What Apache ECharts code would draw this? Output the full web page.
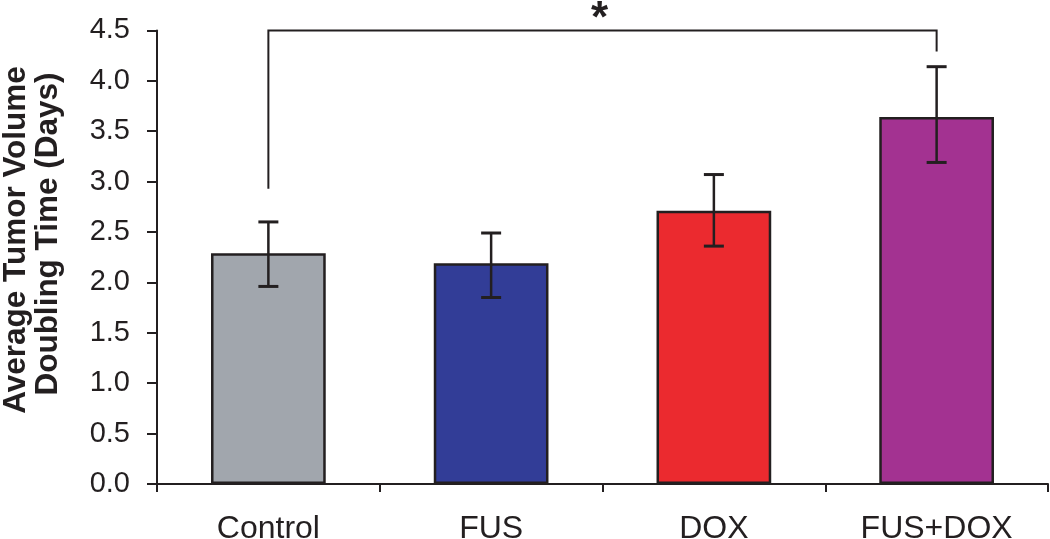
<!DOCTYPE html>
<html>
<head>
<meta charset="utf-8">
<script src="https://cdn.jsdelivr.net/npm/echarts@6/dist/echarts.min.js"></script>
<style>
html,body{margin:0;padding:0;background:#fff;}
#chart{width:1050px;height:539px;}
</style>
</head>
<body>
<div id="chart"></div>
<script>
// ---- data ----
const categories = ['Control', 'FUS', 'DOX', 'FUS+DOX'];
const meanValues = [2.29, 2.19, 2.71, 3.64];
const errorLow = [1.96, 1.85, 2.36, 3.19];
const errorHigh = [2.60, 2.49, 3.07, 4.14];
const barColors = ['#a1a6ad', '#323d97', '#eb2a2f', '#a33291'];
const yTicks = [0, 0.5, 1.0, 1.5, 2.0, 2.5, 3.0, 3.5, 4.0, 4.5];
// significance bracket: [fromIndex, toIndex, leftLegEnd, rightLegEnd, top]
const bracket = [[0, 3, 2.93, 4.29, 4.5]];
const bracketLabel = '*';
const yTitleLines = ['Average Tumor Volume', 'Doubling Time (Days)'];

const INK = '#231f20';
const FONT = '"Liberation Sans", Arial, Helvetica, sans-serif';

const chart = echarts.init(document.getElementById('chart'));
const option = {
  animation: false,
  backgroundColor: '#fff',
  grid: { left: 157, right: 2, top: 30.4, bottom: 55, containLabel: false, outerBoundsMode: 'none' },
  xAxis: {
    type: 'category',
    data: categories,
    boundaryGap: true,
    axisLine: { lineStyle: { color: INK, width: 2 } },
    axisTick: { show: true, alignWithLabel: false, length: 8, lineStyle: { color: INK, width: 2 } },
    axisLabel: { color: INK, fontSize: 32, fontFamily: FONT, margin: 29 },
    splitLine: { show: false }
  },
  yAxis: {
    type: 'value',
    min: yTicks[0],
    max: yTicks[yTicks.length - 1],
    interval: 0.5,
    axisLine: { show: true, lineStyle: { color: INK, width: 2 } },
    axisTick: { show: true, inside: false, length: 10, lineStyle: { color: INK, width: 2 } },
    axisLabel: { color: INK, fontSize: 29, fontFamily: FONT, margin: 27, formatter: v => v.toFixed(1) },
    splitLine: { show: false }
  },
  graphic: [
    { type: 'text', x: 16, y: 240, rotation: Math.PI / 2,
      style: { text: yTitleLines[0], font: 'bold 31.5px ' + FONT, fill: INK, textAlign: 'center', textVerticalAlign: 'middle' } },
    { type: 'text', x: 48, y: 234, rotation: Math.PI / 2,
      style: { text: yTitleLines[1], font: 'bold 31.5px ' + FONT, fill: INK, textAlign: 'center', textVerticalAlign: 'middle' } }
  ],
  series: [
    {
      type: 'bar',
      data: meanValues.map((v, i) => ({ value: v, itemStyle: { color: barColors[i] } })),
      barWidth: '51.5%',
      itemStyle: { borderColor: INK, borderWidth: 2.5 },
      z: 2
    },
    {
      type: 'custom',
      z: 5,
      data: categories.map((c, i) => [i, errorLow[i], errorHigh[i]]),
      renderItem: function (params, api) {
        const lo = api.coord([api.value(0), api.value(1)]);
        const hi = api.coord([api.value(0), api.value(2)]);
        const half = 10;
        const st = { stroke: INK, lineWidth: 2.5 };
        return {
          type: 'group',
          children: [
            { type: 'line', shape: { x1: lo[0], y1: lo[1], x2: hi[0], y2: hi[1] }, style: st },
            { type: 'line', shape: { x1: lo[0] - half, y1: lo[1], x2: lo[0] + half, y2: lo[1] }, style: { stroke: INK, lineWidth: 3 } },
            { type: 'line', shape: { x1: hi[0] - half, y1: hi[1], x2: hi[0] + half, y2: hi[1] }, style: { stroke: INK, lineWidth: 3 } }
          ]
        };
      }
    },
    {
      type: 'custom',
      z: 5,
      clip: false,
      data: bracket,
      renderItem: function (params, api) {
        const a = api.coord([api.value(0), api.value(2)]);
        const aTop = api.coord([api.value(0), api.value(4)]);
        const bTop = api.coord([api.value(1), api.value(4)]);
        const b = api.coord([api.value(1), api.value(3)]);
        return {
          type: 'group',
          children: [
            { type: 'polyline', shape: { points: [a, aTop, bTop, b] }, style: { stroke: INK, lineWidth: 2, fill: null } },
            { type: 'text', x: (aTop[0] + bTop[0]) / 2 - 3, y: aTop[1] - 11,
              style: { text: bracketLabel, font: 'bold 44px ' + FONT, fill: INK, textAlign: 'center', textVerticalAlign: 'middle' } }
          ]
        };
      }
    }
  ]
};
chart.setOption(option);
</script>
</body>
</html>
